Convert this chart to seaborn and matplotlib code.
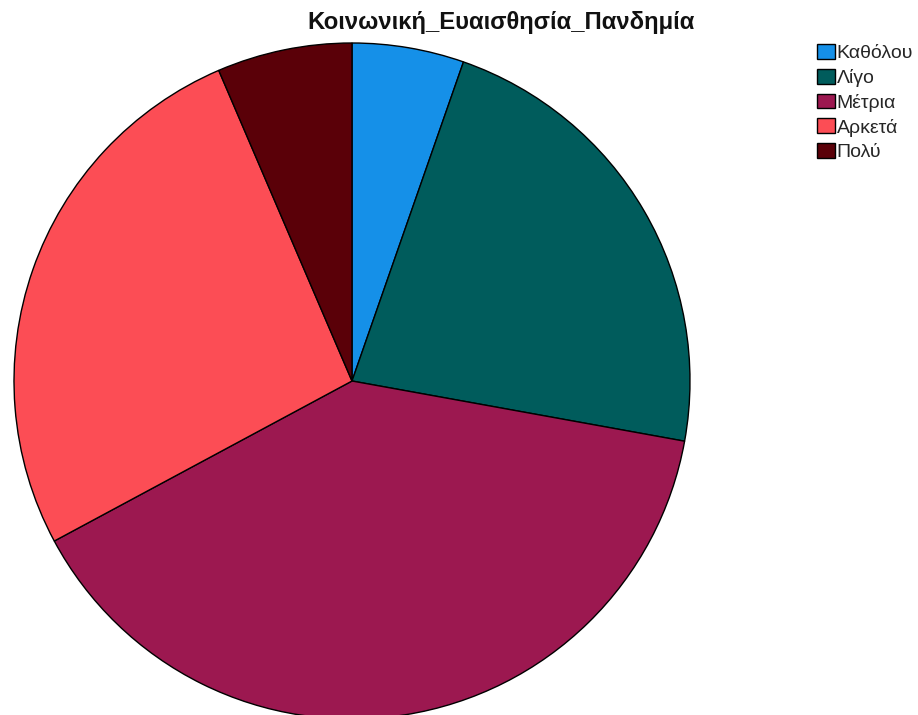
import matplotlib
matplotlib.use("Agg")
import matplotlib.pyplot as plt
import seaborn as sns

categories = ["Καθόλου", "Λίγο", "Μέτρια", "Αρκετά", "Πολύ"]
percentages = [5.35, 22.5, 39.3, 26.4, 6.45]
colors = ["#1590e8", "#005c5c", "#9c1850", "#fc4d55", "#5a0008"]
title = "Κοινωνική_Ευαισθησία_Πανδημία"

sns.set_theme(style="white")
plt.rcParams["font.family"] = ["Liberation Sans", "DejaVu Sans"]

W, H = 918, 715
fig = plt.figure(figsize=(W / 100, H / 100), dpi=100)
ax = fig.add_axes([0, 0, 1, 1])

wedges, _ = ax.pie(
    percentages,
    colors=colors,
    startangle=90,
    counterclock=False,
    center=(352, H - 381),
    radius=338,
    frame=True,
    wedgeprops=dict(edgecolor="black", linewidth=1.0),
)
ax.set_xlim(0, W)
ax.set_ylim(0, H)
ax.set_aspect("equal")
ax.axis("off")

fig.text(501 / W, 1 - 23 / H, title, ha="center", va="center",
         fontsize=17.2, fontweight="bold", color="#111111")

leg = fig.legend(
    wedges, categories,
    loc="upper left", bbox_to_anchor=(817 / W, 1 - 44 / H),
    frameon=False, fontsize=14, handlelength=0.9, handleheight=0.8,
    handletextpad=0.12, labelspacing=0.34, borderpad=0, borderaxespad=0,
)

fig.savefig("out.png", dpi=100)
